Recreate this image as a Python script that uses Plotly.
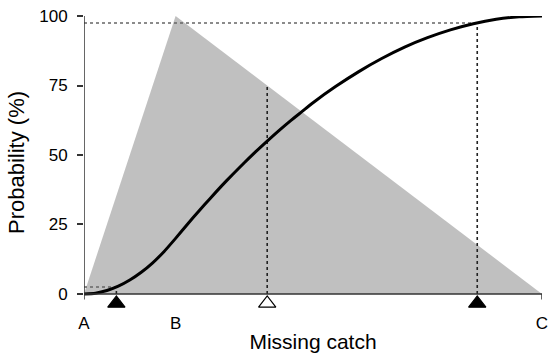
import plotly.graph_objects as go

# Triangular distribution end points (A, B = mode, C) and peak (scaled to 100%)
tri_x = [0, 20, 100]
tri_y = [0, 100, 0]
tick_labels = ["A", "B", "C"]
y_ticks = [0, 25, 50, 75, 100]

# Cumulative probability (%)
cdf_x = [0, 2.5, 5, 7.5, 10, 12.5, 15, 17.5, 20, 22.5, 25, 27.5, 30, 32.5, 35, 37.5, 40,
         42.5, 45, 47.5, 50, 55, 60, 65, 70, 75, 80, 85, 90, 95, 100]
cdf_y = [0, 0.3, 1.25, 2.8, 5, 7.8, 11.2, 15.3, 20, 24.9, 29.7, 34.3, 38.8, 43.1, 47.2, 51.2, 55,
         58.7, 62.2, 65.5, 68.8, 74.7, 80, 84.7, 88.8, 92.2, 95, 97.2, 98.8, 99.7, 100]

# Markers: 2.5% quantile, mean, 97.5% quantile
mark_x = [7.07, 40, 85.86]
mark_top = [2.5, 75, 97.5]          # height reached by each dotted guide
mark_fill = ["black", "white", "black"]

Y_MIN = -5.4
MARK_Y = -3.4

fig = go.Figure()

fig.add_trace(go.Scatter(x=tri_x + [tri_x[0]], y=tri_y + [tri_y[0]], fill="toself",
                         fillcolor="#c0c0c0", line=dict(width=0), mode="lines",
                         hoverinfo="skip", showlegend=False))

# dotted guides
for xv, yv in zip(mark_x, mark_top):
    fig.add_trace(go.Scatter(x=[xv, xv], y=[0, yv], mode="lines",
                             line=dict(color="#222222", width=1.6, dash="dot"),
                             showlegend=False, hoverinfo="skip"))
for xv, yv in [(mark_x[0], mark_top[0]), (mark_x[2], mark_top[2])]:
    fig.add_trace(go.Scatter(x=[0, xv], y=[yv, yv], mode="lines",
                             line=dict(color="#666666", width=1.6, dash="dot"),
                             showlegend=False, hoverinfo="skip"))

fig.add_trace(go.Scatter(x=cdf_x, y=cdf_y, mode="lines",
                         line=dict(color="black", width=3, shape="spline", smoothing=0.6),
                         showlegend=False, hoverinfo="skip"))

# axis lines (R style): x from A to C at y=0, y from 0 to 100
fig.add_shape(type="line", xref="x", yref="y", x0=tri_x[0], x1=tri_x[2], y0=0, y1=0,
              line=dict(color="#333333", width=1.5))
fig.add_shape(type="line", xref="x", yref="y", x0=0, x1=0, y0=0, y1=100,
              line=dict(color="#333333", width=1.5))
# x-axis ticks at A and C
for xv in [tri_x[0], tri_x[2]]:
    fig.add_shape(type="line", xref="x", yref="y", x0=xv, x1=xv, y0=0, y1=-2,
                  line=dict(color="#333333", width=1.5))

fig.add_trace(go.Scatter(x=mark_x, y=[MARK_Y] * 3, mode="markers", cliponaxis=False,
                         marker=dict(symbol="triangle-up", size=15, color=mark_fill,
                                     line=dict(color="black", width=1.2)),
                         showlegend=False, hoverinfo="skip"))

font = "Liberation Sans, Arial, sans-serif"
fig.update_layout(
    width=555, height=357,
    margin=dict(l=84, r=7, t=16, b=46),
    plot_bgcolor="white", paper_bgcolor="white",
    font=dict(family=font, size=17, color="black"),
    xaxis=dict(range=[0, 100], tickvals=tri_x, ticktext=tick_labels, ticks="",
               showline=False, showgrid=False, zeroline=False,
               ticklabelstandoff=2, tickfont=dict(size=17),
               title=dict(text="Missing catch", font=dict(size=21), standoff=2)),
    yaxis=dict(range=[Y_MIN, 100], tickvals=y_ticks, ticks="outside", ticklen=6,
               tickcolor="#333333", tickwidth=1.5,
               showline=False, showgrid=False, zeroline=False,
               ticklabelstandoff=6, tickfont=dict(size=17),
               title=dict(text="Probability (%)", font=dict(size=22), standoff=8)),
)

fig.write_html("out.html")
